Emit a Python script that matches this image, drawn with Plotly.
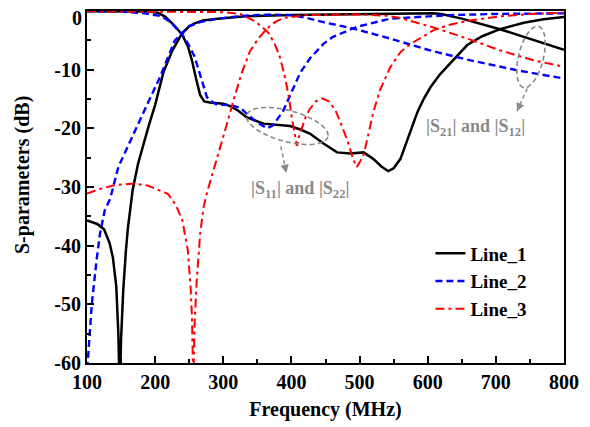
import numpy as np
import plotly.graph_objects as go

# ---------------- data ----------------
f_l1_s21 = [100, 115, 125, 133, 138, 143, 146, 148, 150, 153, 157, 160, 167, 175, 190, 200, 212, 225, 239, 250, 258,
            270, 292, 332, 400, 500, 560, 608, 620, 650, 706, 750, 800]
l1_s21 = [-35.7, -36.3, -37.2, -39.5, -42, -47, -55, -65, -56, -48, -41, -37, -30.5, -26, -19.8, -16, -10.5, -6.8, -3.9,
          -2.6, -2.1, -1.6, -1.3, -0.9, -0.7, -0.5, -0.4, -0.4, -0.5, -1.3, -3.1, -4.7, -6.6]

f_l1_s11 = [100, 150, 190, 204, 215, 225, 239, 248, 254, 260, 266, 272, 280, 300, 310, 322, 334, 359, 380, 398, 413,
            427, 447, 467, 486, 506, 520, 532, 542, 550, 560, 567, 574, 585, 594, 604, 618, 643, 658, 680, 706, 741,
            770, 800]
l1_s11 = [-0.05, -0.05, -0.1, -0.3, -1.0, -2.1, -3.9, -6.0, -8.4, -11.5, -14.3, -15.4, -15.6, -15.8, -16.2, -17.0,
          -18.1, -19.2, -19.4, -19.6, -20.2, -20.9, -22.6, -24.1, -24.3, -24.1, -25.2, -26.5, -27.3, -26.8, -25.2,
          -23.0, -20.6, -17.2, -15.0, -13.0, -10.8, -7.6, -5.8, -4.3, -3.1, -2.0, -1.4, -1.0]

f_l2_s21 = [100, 101, 104, 107, 114, 119, 126, 134, 146, 168, 190, 207, 220, 229, 241, 248, 266, 292, 332, 370, 398,
            420, 447, 491, 545, 564, 600, 658, 700, 731, 770, 800]
l2_s21 = [-61, -60, -55, -50, -42.5, -38, -34, -32, -26.6, -20.9, -15.5, -11.3, -7.5, -5.0, -3.6, -2.7, -1.9, -1.3,
          -0.8, -0.6, -0.7, -1.1, -1.9, -3.0, -4.7, -5.4, -6.6, -8.3, -9.4, -10.1, -10.9, -11.5]

f_l2_s11 = [100, 150, 185, 205, 215, 225, 239, 248, 258, 266, 272, 276, 285, 291, 310, 325, 339, 350, 364, 373, 388,
            398, 413, 427, 447, 461, 496, 545, 600, 633, 700, 800]
l2_s11 = [-0.05, -0.1, -0.4, -0.8, -1.3, -2.2, -3.9, -5.5, -7.8, -11.0, -13.5, -14.7, -15.6, -16.0, -16.0, -16.5,
          -18.0, -19.0, -20.0, -19.5, -17.0, -14.5, -10.5, -8.1, -5.6, -4.4, -2.7, -1.3, -0.9, -0.7, -0.5, -0.4]

f_l3_s21 = [100, 120, 140, 170, 190, 205, 219, 230, 240, 248, 252, 254, 256, 258, 261, 266, 271, 276, 285, 295, 305,
            315, 327, 339, 352, 364, 376, 388, 420, 500, 540, 560, 585, 614, 658, 706, 755, 800]
l3_s21 = [-31.1, -30.3, -29.7, -29.4, -29.8, -30.5, -31.2, -33, -35.7, -40.8, -47, -52, -64, -53, -46, -38, -33.5,
          -31, -27.5, -23.7, -19.4, -15.2, -10.6, -6.9, -4.6, -3.0, -1.9, -1.2, -0.7, -0.6, -0.8, -1.2, -2.0, -3.0,
          -4.7, -6.7, -8.4, -9.5]

f_l3_s11 = [100, 250, 300, 325, 344, 356, 366, 375, 383, 390, 396, 401, 405, 408, 411, 415, 421, 427, 436, 445, 455,
            465, 472, 482, 491, 496, 501, 506, 512, 520, 530, 545, 560, 575, 594, 608, 630, 658, 706, 750, 800]
l3_s11 = [-0.05, -0.1, -0.2, -0.5, -1.6, -2.6, -3.7, -5.5, -7.8, -11, -14.5, -18.5, -21.5, -23, -21.5, -20.0, -18,
          -16.7, -15.4, -14.9, -15.4, -17, -19.1, -22, -25.4, -26.6, -25.6, -24.5, -21.5, -17.3, -13.5, -9.6, -7.0,
          -5.6, -4.3, -3.3, -2.4, -1.7, -0.9, -0.5, -0.3]

series_names = ["Line_1", "Line_2", "Line_3"]
x_ticks = [100, 200, 300, 400, 500, 600, 700, 800]
y_ticks = [0, -10, -20, -30, -40, -50, -60]

FONT = "Liberation Serif, Times New Roman, serif"
GRAY = "#8a8a8a"

styles = [
    dict(color="black", width=2.5, dash="solid"),
    dict(color="#0000ff", width=2.4, dash="7px,4px"),
    dict(color="#ff0000", width=2.0, dash="9px,4px,3px,4px"),
]

fig = go.Figure()
pairs = [(f_l1_s21, l1_s21, f_l1_s11, l1_s11),
         (f_l2_s21, l2_s21, f_l2_s11, l2_s11),
         (f_l3_s21, l3_s21, f_l3_s11, l3_s11)]
for name, st, (fa, ya, fb, yb) in zip(series_names, styles, pairs):
    fig.add_trace(go.Scatter(x=fa, y=ya, mode="lines", name=name, line=st, legendgroup=name, showlegend=True))
    fig.add_trace(go.Scatter(x=fb, y=yb, mode="lines", name=name, line=st, legendgroup=name, showlegend=False))

# ---------------- layout geometry ----------------
L, R, T, B = 79, 34, 3, 72
W, H = 590, 427
sx = (W - L - R) / 700.0   # px per MHz
sy = (H - T - B) / 60.0    # px per dB


def ellipse_path(cx, cy, a, b, phi_deg):
    t = np.linspace(0, 2 * np.pi, 73)
    phi = np.radians(phi_deg)
    dx = a * np.cos(phi) * np.cos(t) - b * np.sin(phi) * np.sin(t)
    dy = a * np.sin(phi) * np.cos(t) + b * np.cos(phi) * np.sin(t)
    xs = cx + dx / sx
    ys = cy - dy / sy
    return "M " + " L ".join(f"{x:.3f},{y:.3f}" for x, y in zip(xs, ys)) + " Z"


fig.add_shape(type="path", path=ellipse_path(394, -19.6, 42, 15.5, 15),
              line=dict(color=GRAY, width=1.6, dash="5px,3px"))
fig.add_shape(type="path", path=ellipse_path(751.6, -7.84, 31.5, 12.4, 103.8),
              line=dict(color=GRAY, width=1.6, dash="5px,3px"))

# dashed arrows
arrows = [((384.5, -23.1), (392.5, -27.6)), ((746, -13.2), (731, -17.1))]
for (x0, y0), (x1, y1) in arrows:
    fig.add_shape(type="line", x0=x0, y0=y0, x1=x1, y1=y1, line=dict(color=GRAY, width=1.5, dash="4px,3px"))
    dxp = (x0 - x1) * sx
    dyp = -(y0 - y1) * sy
    n = (dxp ** 2 + dyp ** 2) ** 0.5
    fig.add_annotation(x=x1, y=y1, ax=dxp / n * 6, ay=dyp / n * 6, text="", showarrow=True,
                       arrowhead=2, arrowsize=1.1, arrowwidth=1.5, arrowcolor=GRAY)

fig.add_annotation(x=412.6, y=-30.4, text="|S<sub>11</sub>| and |S<sub>22</sub>|", showarrow=False,
                   font=dict(family=FONT, size=18, color=GRAY, weight="bold"))
fig.add_annotation(x=669.4, y=-19.8, text="|S<sub>21</sub>| and |S<sub>12</sub>|", showarrow=False,
                   font=dict(family=FONT, size=18, color=GRAY, weight="bold"))

# y-axis title (placed as rotated text so it sits where the reference has it)
fig.add_annotation(xref="paper", yref="paper", x=(22 - 87) / 477.0, y=(363 - 175) / 352.0,
                   text="S-parameters (dB)", textangle=-90, showarrow=False,
                   xanchor="center", yanchor="middle",
                   font=dict(family=FONT, size=20, color="black", weight="bold"))

# top "0" tick label, nudged down slightly so it is not clipped at the page edge
y_ticktext = [str(v) for v in y_ticks]
y_ticktext[0] = ""
fig.add_annotation(x=100, y=y_ticks[0], xref="x", yref="y", text=str(y_ticks[0]), showarrow=False,
                   xanchor="right", yanchor="middle", xshift=-4, yshift=-7, borderpad=0,
                   font=dict(family=FONT, size=20, color="black", weight="bold"))

axis_common = dict(showline=True, linecolor="black", linewidth=2, mirror=True, showgrid=False, zeroline=False,
                   ticks="inside", tickwidth=2, ticklen=7, tickcolor="black", automargin=False,
                   ticklabeloverflow="allow",
                   tickfont=dict(family=FONT, size=20, color="black", weight="bold"))

fig.update_layout(
    width=W, height=H,
    margin=dict(l=L, r=R, t=T, b=B, pad=0),
    paper_bgcolor="white", plot_bgcolor="white",
    font=dict(family=FONT, size=18, color="black", weight="bold"),
    xaxis=dict(range=[100, 800], tickvals=x_ticks, ticktext=[str(v) for v in x_ticks],
               title=dict(text="Frequency (MHz)", font=dict(family=FONT, size=20, weight="bold"), standoff=10),
               minor=dict(ticks="inside", dtick=50, ticklen=4, tickwidth=2, tickcolor="black"),
               **axis_common),
    yaxis=dict(range=[-60, 0], tickvals=y_ticks, ticktext=y_ticktext,
               minor=dict(ticks="inside", dtick=5, ticklen=4, tickwidth=2, tickcolor="black"),
               **axis_common),
    legend=dict(x=0.72, y=0.365, xanchor="left", yanchor="top", bgcolor="rgba(0,0,0,0)",
                font=dict(family=FONT, size=19, color="black", weight="bold"), tracegroupgap=0,
                itemwidth=30),
    showlegend=True,
)

fig.write_html("out.html")
